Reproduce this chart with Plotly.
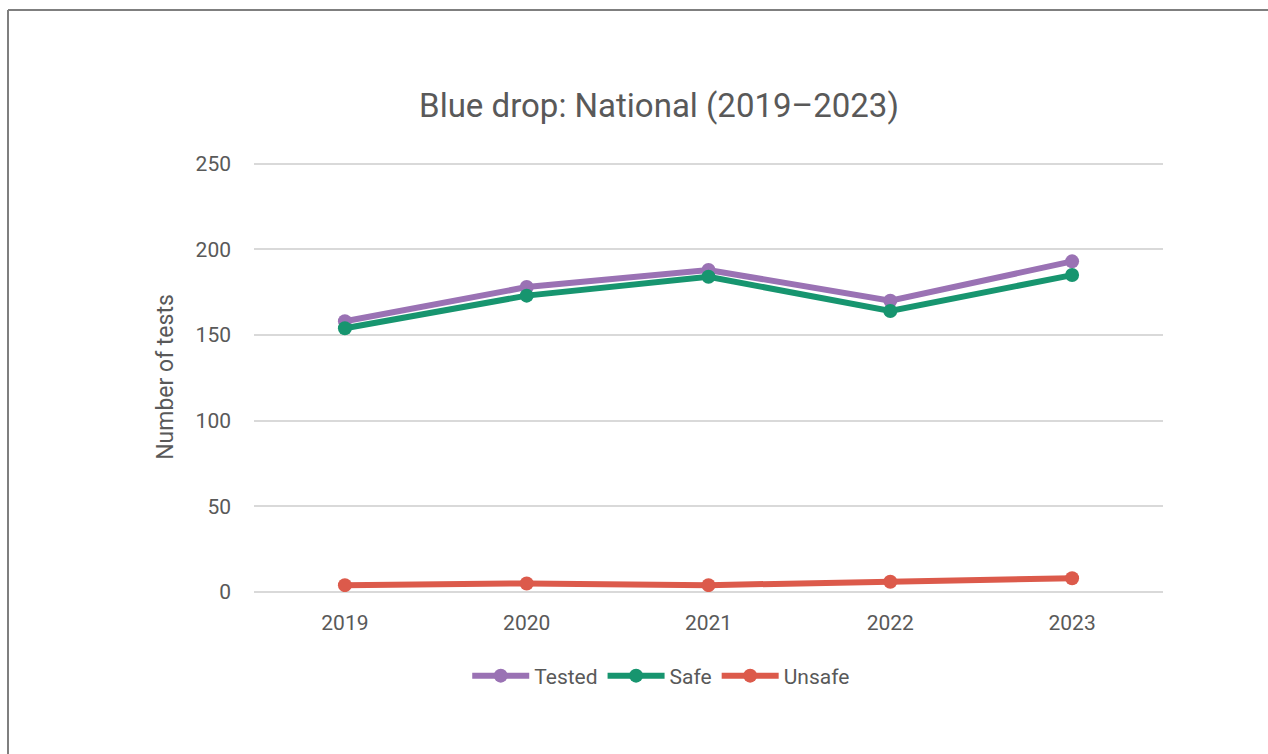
import plotly.graph_objects as go

years = ["2019", "2020", "2021", "2022", "2023"]
tested = [158, 178, 188, 170, 193]
safe = [154, 173, 184, 164, 185]
unsafe = [4, 5, 4, 6, 8]

series = [("Tested", tested, "#9A72B4"), ("Safe", safe, "#17956F"), ("Unsafe", unsafe, "#DC5A4B")]

FONT = "Roboto"
GREY = "#595959"

fig = go.Figure()
for name, vals, col in series:
    fig.add_trace(go.Scatter(x=years, y=vals, name=name, mode="lines+markers",
                             line=dict(color=col, width=6),
                             marker=dict(color=col, size=14)))

fig.update_layout(
    width=1268, height=754,
    margin=dict(l=254, r=105, t=162, b=162),
    paper_bgcolor="white", plot_bgcolor="white",
    font=dict(family=FONT, color=GREY, size=21),
    title=dict(text="Blue drop: National (2019\u20132023)", x=659 / 1268, xanchor="center",
               y=1 - 105 / 754, yanchor="middle", font=dict(size=33, color=GREY)),
    xaxis=dict(type="category", range=[-0.5, 4.5], showgrid=False, showline=False,
               ticks="", ticklabelstandoff=16, tickfont=dict(size=21, color=GREY)),
    yaxis=dict(range=[0, 251], tickvals=[0, 50, 100, 150, 200, 250], showgrid=True,
               gridcolor="#D9D9D9", gridwidth=1.5,
               zeroline=True, zerolinecolor="#D9D9D9", zerolinewidth=1.5,
               showline=False, ticks="", ticklabelstandoff=22,
               tickfont=dict(size=21, color=GREY),
               title=dict(text="Number of tests", font=dict(size=23, color=GREY), standoff=15)),
    legend=dict(orientation="h", x=0.448, xanchor="center", y=-84 / 430, yanchor="middle",
                font=dict(size=21, color=GREY), itemwidth=57, tracegroupgap=0),
    showlegend=True,
)

# outer border (left and top edges visible)
fig.add_shape(type="line", xref="paper", yref="paper", xsizemode="pixel", ysizemode="pixel",
              xanchor=0, yanchor=1, x0=-246, x1=-246, y0=152, y1=-600,
              line=dict(color="#7F7F7F", width=2))
fig.add_shape(type="line", xref="paper", yref="paper", xsizemode="pixel", ysizemode="pixel",
              xanchor=0, yanchor=1, x0=-246, x1=1020, y0=152, y1=152,
              line=dict(color="#7F7F7F", width=2))

fig.write_html("out.html")
